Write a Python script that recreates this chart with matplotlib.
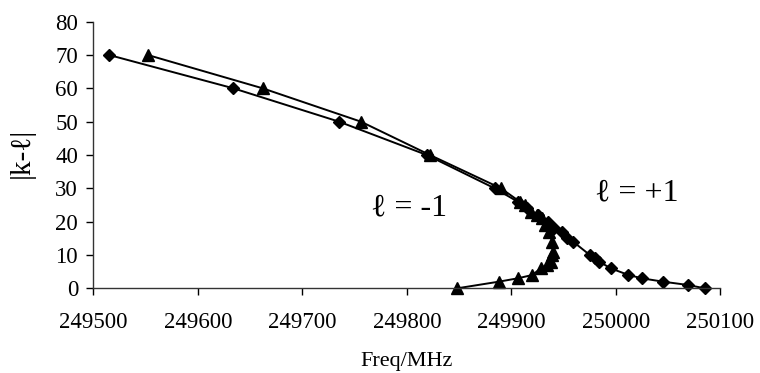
import matplotlib
matplotlib.use("Agg")
import matplotlib.pyplot as plt

# l = +1 series (diamonds)
plus_freq = [249515, 249634, 249735, 249819, 249884, 249906, 249915, 249925,
             249935, 249941, 249948, 249953, 249959, 249975, 249980, 249984,
             249995, 250012, 250025, 250045, 250069, 250085]
plus_k = [70, 60, 50, 40, 30, 26, 24, 22, 20, 18, 17, 15, 14, 10, 9, 8,
          6, 4, 3, 2, 1, 0]

# l = -1 series (triangles)
minus_freq = [249552, 249662, 249756, 249822, 249890, 249908, 249913, 249919,
              249924, 249929, 249932, 249936, 249939, 249940, 249939, 249938,
              249934, 249928, 249920, 249906, 249888, 249848]
minus_k = [70, 60, 50, 40, 30, 26, 25, 23, 22, 21, 19, 17, 14, 11, 10, 8,
           7, 6, 4, 3, 2, 0]

xticks = [249500, 249600, 249700, 249800, 249900, 250000, 250100]
yticks = [0, 10, 20, 30, 40, 50, 60, 70, 80]

serif = ['Liberation Serif', 'DejaVu Serif']
plt.rcParams['font.family'] = serif

fig = plt.figure(figsize=(7.6, 3.73), dpi=100)
ax = fig.add_axes([0.1228, 0.227, 0.8252, 0.715])

ax.plot(plus_freq, plus_k, color='black', lw=1.4, marker='D', ms=6.5,
        mfc='black', mec='black')
ax.plot(minus_freq, minus_k, color='black', lw=1.4, marker='^', ms=8,
        mfc='black', mec='black')

ax.set_xlim(249500, 250100)
ax.set_ylim(0, 80)
ax.set_xticks(xticks)
ax.set_yticks(yticks)
ax.set_xticklabels([str(t) for t in xticks])
ax.set_yticklabels([str(t) for t in yticks])
ax.tick_params(direction='out', length=5, width=1, labelsize=16.5, pad=6,
               colors='black')
ax.tick_params(axis='x', pad=12)
for s in ['top', 'right']:
    ax.spines[s].set_visible(False)
for s in ['left', 'bottom']:
    ax.spines[s].set_linewidth(1)
    ax.spines[s].set_color('#333333')
for ln in ax.get_lines():
    ln.set_clip_on(False)

fig.text(0.029, 0.59, '|k-ℓ|', rotation=90, fontsize=21, ha='center',
         va='center', family=serif)
fig.text(0.535, 0.03, 'Freq/MHz', fontsize=16, ha='center', va='center',
         family=serif)
ax.text(249802, 24, 'ℓ = -1', fontsize=23, ha='center', va='center',
        family=serif)
ax.text(250020, 28.5, 'ℓ = +1', fontsize=23, ha='center', va='center',
        family=serif)

fig.savefig('out.png', dpi=100)
